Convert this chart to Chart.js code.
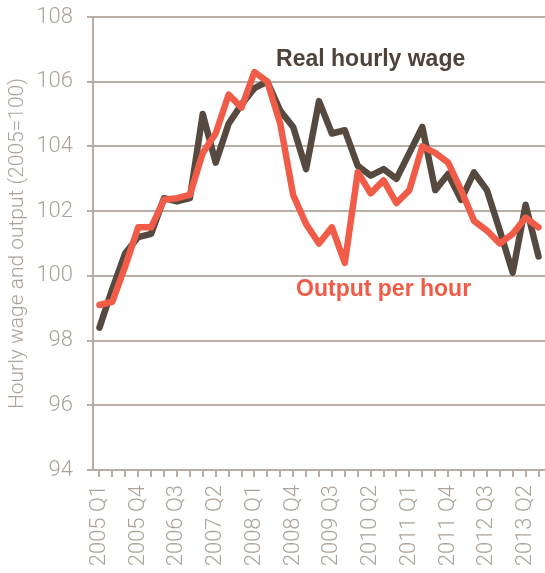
<!DOCTYPE html>
<html>
<head>
<meta charset="utf-8">
<script src="https://cdn.jsdelivr.net/npm/chart.js@4"></script>
<style>
  html, body { margin: 0; padding: 0; background: #fff; }
  #wrap { width: 545px; height: 573px; }
</style>
</head>
<body>
<div id="wrap"><canvas id="wageChart"></canvas></div>
<script>
// quarters 2005 Q1 .. 2013 Q3
const quarters = [];
for (let y = 2005; y <= 2013; y++) {
  for (let q = 1; q <= 4; q++) {
    if (y === 2013 && q > 3) break;
    quarters.push(y + ' Q' + q);
  }
}

// Real hourly wage (2005=100)
const wage = [98.4, 99.6, 100.7, 101.2, 101.3, 102.4, 102.3, 102.4, 105.0, 103.5,
  104.7, 105.3, 105.8, 106.0, 105.1, 104.6, 103.3, 105.4, 104.4, 104.5,
  103.4, 103.1, 103.3, 103.0, 103.8, 104.6, 102.65, 103.15, 102.35, 103.2,
  102.65, 101.4, 100.1, 102.2, 100.6];

// Output per hour (2005=100)
const output = [99.1, 99.2, 100.3, 101.5, 101.5, 102.35, 102.4, 102.5, 103.8, 104.4,
  105.6, 105.2, 106.3, 106.0, 104.7, 102.5, 101.6, 101.0, 101.5, 100.4,
  103.2, 102.55, 102.95, 102.25, 102.65, 104.0, 103.8, 103.5, 102.65, 101.7,
  101.4, 101.0, 101.3, 101.8, 101.5];

const wageColor = '#564a40';
const outputColor = '#f05c48';
const greyText = '#aea39a';
const gridColor = '#b8aea6';

// series labels written onto the plot
const seriesLabels = {
  id: 'seriesLabels',
  afterDatasetsDraw(chart) {
    const { ctx, scales } = chart;
    ctx.save();
    ctx.font = 'bold 23px "Liberation Sans", Arial, sans-serif';
    ctx.textAlign = 'center';
    ctx.textBaseline = 'middle';
    ctx.fillStyle = '#4e4239';
    ctx.fillText('Real hourly wage', scales.x.getPixelForValue(21.0), scales.y.getPixelForValue(106.67));
    ctx.fillStyle = outputColor;
    ctx.fillText('Output per hour', scales.x.getPixelForValue(22.0), scales.y.getPixelForValue(99.57));
    ctx.restore();
  }
};

const ctx = document.getElementById('wageChart').getContext('2d');
new Chart(ctx, {
  type: 'line',
  data: {
    labels: quarters,
    datasets: [{
      label: 'Output per hour',
      data: output,
      borderColor: outputColor,
      borderWidth: 6.5,
      pointRadius: 0,
      tension: 0,
      borderJoinStyle: 'round',
      borderCapStyle: 'round'
    }, {
      label: 'Real hourly wage',
      data: wage,
      borderColor: wageColor,
      borderWidth: 6.5,
      pointRadius: 0,
      tension: 0,
      borderJoinStyle: 'round',
      borderCapStyle: 'round'
    }]
  },
  options: {
    responsive: true,
    maintainAspectRatio: false,
    animation: false,
    layout: { padding: { top: 17, right: 0, left: 0, bottom: 0 } },
    plugins: {
      legend: { display: false },
      tooltip: { enabled: false }
    },
    scales: {
      x: {
        offset: true,
        afterFit(scale) {
          scale.height = 103;
          scale.paddingLeft = 0;
          scale.paddingRight = 0;
        },
        grid: {
          drawOnChartArea: false,
          drawTicks: true,
          tickLength: 7,
          color: gridColor,
          lineWidth: 2
        },
        border: { color: gridColor, width: 2 },
        ticks: {
          autoSkip: false,
          maxRotation: 90,
          minRotation: 90,
          padding: 8,
          color: greyText,
          font: { family: 'Roboto, "Liberation Sans", sans-serif', size: 22, weight: 300 },
          callback: function(value, index) {
            return index % 3 === 0 ? this.getLabelForValue(value) : '';
          }
        }
      },
      y: {
        min: 94,
        max: 108,
        afterFit(scale) {
          scale.width = 93;
          scale.paddingTop = 0;
          scale.paddingBottom = 0;
        },
        grid: {
          color: gridColor,
          lineWidth: 2,
          tickLength: 6
        },
        border: { display: true, color: gridColor, width: 2 },
        ticks: {
          stepSize: 2,
          padding: 14,
          color: greyText,
          font: { family: 'Roboto, "Liberation Sans", sans-serif', size: 22, weight: 300 }
        },
        title: {
          display: true,
          text: 'Hourly wage and output (2005=100)',
          color: greyText,
          padding: { top: 5, bottom: 0 },
          font: { family: 'Roboto, "Liberation Sans", sans-serif', size: 21, weight: 300 }
        }
      }
    }
  },
  plugins: [seriesLabels]
});
</script>
</body>
</html>
